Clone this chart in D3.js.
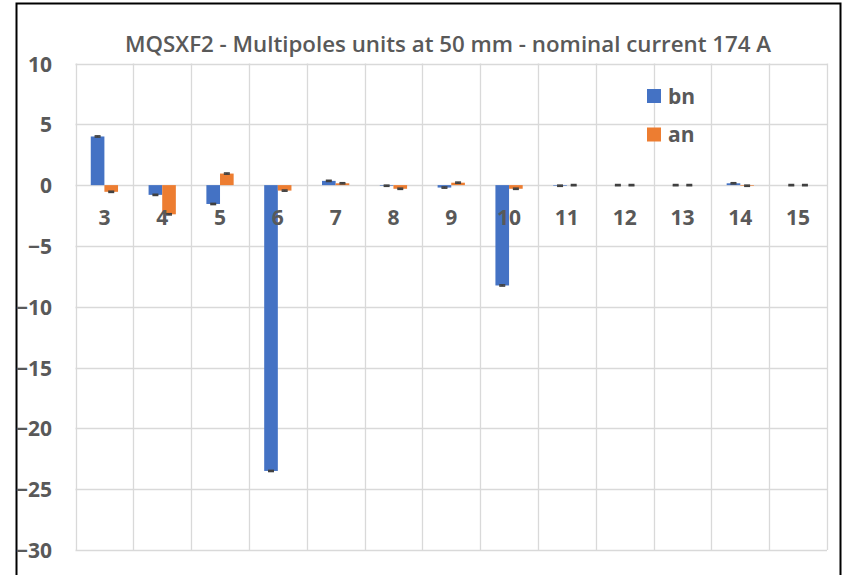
<!DOCTYPE html>
<html><head><meta charset="utf-8">
<script src="https://cdn.jsdelivr.net/npm/d3@7"></script>
<style>body{margin:0;background:#fff}svg{display:block}text{font-family:"Open Sans",sans-serif}</style>
</head><body>
<script>
const title = "MQSXF2 - Multipoles units at 50 mm - nominal current 174 A";
const categories = ["3","4","5","6","7","8","9","10","11","12","13","14","15"];
const bn = [4.0, -0.8, -1.55, -23.5, 0.35, -0.05, -0.2, -8.25, -0.05, 0.0, 0.0, 0.15, 0.0];
const an = [-0.55, -2.4, 0.95, -0.45, 0.15, -0.3, 0.2, -0.3, 0.0, 0.0, 0.0, -0.05, 0.0];
const errBn = [0.05,0.05,0.05,0.05,0.05,0.05,0.05,0.05,0.05,0.05,0.05,0.05,0.05];
const errAn = [0.05,0.05,0.05,0.05,0.05,0.05,0.05,0.05,0.05,0.05,0.05,0.05,0.05];
const yTicks = [10,5,0,-5,-10,-15,-20,-25,-30];
const seriesNames = ["bn","an"];
const colors = ["#4472C4","#ED7D31"];

(function(){
const W=847,H=575;
const svg=d3.select("body").append("svg").attr("width",W).attr("height",H);
svg.append("rect").attr("x",0).attr("y",0).attr("width",W).attr("height",H).attr("fill","#fff");
svg.append("path").attr("d","M16.5,"+H+"V3.5H840.5V"+H).attr("fill","none").attr("stroke","#000").attr("stroke-width",2);

const pLeft=75.5,pRight=827,pTop=63.5,pBottom=550;
const x=d3.scaleBand().domain(categories).range([pLeft,pRight]).paddingInner(0).paddingOuter(0);
const y=d3.scaleLinear().domain([-30,10]).range([pBottom,pTop]);
const sub=d3.scaleBand().domain(seriesNames).range([0,x.bandwidth()]).paddingInner(0).paddingOuter(1.12);

const grid=svg.append("g").attr("stroke","#d9d9d9").attr("stroke-width",1.3);
yTicks.forEach(t=>grid.append("line").attr("x1",pLeft).attr("x2",pRight).attr("y1",Math.round(y(t))+0.5).attr("y2",Math.round(y(t))+0.5));
categories.concat(["end"]).forEach((c,i)=>{const xx=i<categories.length?x(c):pRight;grid.append("line").attr("x1",Math.round(xx)+0.5).attr("x2",Math.round(xx)+0.5).attr("y1",pTop).attr("y2",pBottom);});

const yAxis=d3.axisLeft(y).tickValues(yTicks).tickSize(0).tickPadding(0);
const ga=svg.append("g").attr("transform","translate(52,0)").call(yAxis);
ga.select(".domain").remove();
ga.selectAll("text").attr("font-family","Open Sans").attr("font-weight","700").attr("font-size",21).attr("fill","#595959").attr("dy","0.36em");

const data=[bn,an], errs=[errBn,errAn];
data.forEach((vals,si)=>{
  const g=svg.append("g");
  g.selectAll("rect").data(vals).join("rect")
    .attr("x",(d,i)=>x(categories[i])+sub(seriesNames[si]))
    .attr("width",sub.bandwidth())
    .attr("y",d=>y(Math.max(0,d)))
    .attr("height",d=>Math.abs(y(d)-y(0)))
    .attr("fill",colors[si]);
  const eg=svg.append("g").attr("stroke","#404040").attr("stroke-width",1.5);
  vals.forEach((d,i)=>{
    const cx=x(categories[i])+sub(seriesNames[si])+sub.bandwidth()/2;
    const e=errs[si][i];
    eg.append("line").attr("x1",cx).attr("x2",cx).attr("y1",y(d-e)).attr("y2",y(d+e));
    eg.append("line").attr("x1",cx-3).attr("x2",cx+3).attr("y1",y(d+e)).attr("y2",y(d+e));
    eg.append("line").attr("x1",cx-3).attr("x2",cx+3).attr("y1",y(d-e)).attr("y2",y(d-e));
  });
});

const xAxis=d3.axisBottom(x).tickSize(0).tickPadding(0);
const gx=svg.append("g").attr("transform","translate(0,"+(y(0)+40)+")").call(xAxis);
gx.select(".domain").remove();
gx.selectAll("text").attr("font-family","Open Sans").attr("font-weight","700").attr("font-size",21).attr("fill","#595959").attr("dy","0").attr("y",0);

svg.append("text").attr("x",448).attr("y",52).attr("text-anchor","middle").attr("font-weight","600").attr("font-size",22.3).attr("fill","#595959").text(title);

seriesNames.forEach((n,i)=>{
  const ly=89+i*38.5;
  svg.append("rect").attr("x",647).attr("y",ly).attr("width",14).attr("height",14).attr("fill",colors[i]);
  svg.append("text").attr("x",668).attr("y",ly+14.5).attr("font-weight","700").attr("font-size",21).attr("fill","#595959").text(n);
});
})();
</script>
</body></html>
